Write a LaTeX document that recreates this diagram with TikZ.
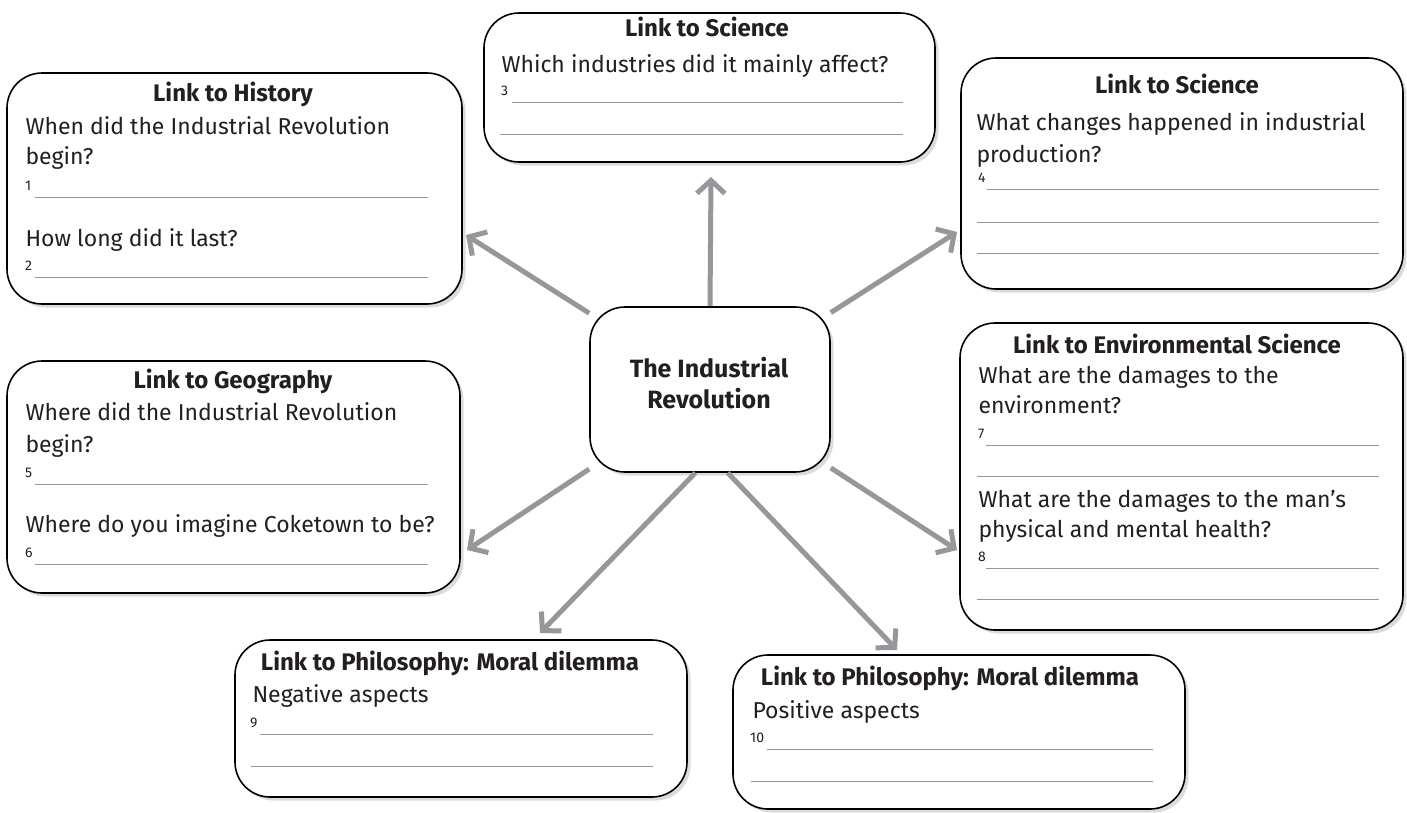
\documentclass[tikz,border=0pt]{standalone}
\usepackage{fontspec}
\setmainfont{Fira Sans}
\usetikzlibrary{arrows.meta,fit,shadows}

\definecolor{ink}{RGB}{35,31,32}
\definecolor{arrowgray}{RGB}{150,151,154}
\definecolor{rulegray}{RGB}{150,150,150}

\tikzset{
  panel/.style={draw=black, line width=1.6pt, rounded corners=35pt, fill=white,
    inner sep=0pt, drop shadow={shadow xshift=3.5pt, shadow yshift=-3.5pt, fill=black!28}},
  heading/.style={anchor=base, text=ink, font=\bfseries\fontsize{24}{28}\selectfont},
  question/.style={anchor=base west, text=ink, font=\fontsize{23}{26}\selectfont},
  number/.style={anchor=base west, text=ink, inner sep=0pt, font=\fontsize{14}{16}\selectfont},
  answer/.style={draw=rulegray, line width=1pt},
  link/.style={draw=arrowgray, line width=5pt, -{Straight Barb[length=13pt,width=28pt]}}
}

\begin{document}
\begin{tikzpicture}[x=1pt,y=-1pt]
    \useasboundingbox (0,0) rectangle (1407,812);

    % draw the boxes
    \node[panel, fit={(7,73) (462,304)}] (hist) {};
    \node[panel, fit={(7,361) (460,593)}] (geo) {};
    \node[panel, fit={(484,13) (935,162)}] (sciA) {};
    \node[panel, fit={(961,58) (1403,289)}] (sciB) {};
    \node[panel, fit={(960,323) (1403,630)}] (env) {};
    \node[panel, fit={(235,640) (687,797)}] (neg) {};
    \node[panel, fit={(733,655) (1185,809)}] (pos) {};
    \node[panel, fit={(590,307) (830,472)}] (ir) {};

    % centre title
    \node[heading, font=\bfseries\fontsize{25}{28}\selectfont] (irA) at (709,377) {The Industrial};
    \node[heading, font=\bfseries\fontsize{25}{28}\selectfont] (irB) at (709,408) {Revolution};

    % history
    \node[heading] (histT) at (233,101) {Link to History};
    \node[question] (histA) at (22,134) {When did the Industrial Revolution};
    \node[question] (histB) at (22,164) {begin?};
    \node[number] (n1) at (25,190) {1};
    \draw[answer] (35,197) -- (428,197);
    \node[question] (histC) at (22,246) {How long did it last?};
    \node[number] (n2) at (25,270) {2};
    \draw[answer] (35,277) -- (428,277);

    % geography
    \node[heading] (geoT) at (233,388) {Link to Geography};
    \node[question] (geoA) at (22,420) {Where did the Industrial Revolution};
    \node[question] (geoB) at (22,452) {begin?};
    \node[number] (n5) at (25,477) {5};
    \draw[answer] (35,484) -- (428,484);
    \node[question] (geoC) at (22,532) {Where do you imagine Coketown to be?};
    \node[number] (n6) at (25,557) {6};
    \draw[answer] (35,564) -- (428,564);

    % science, top
    \node[heading] (sciAT) at (707,36) {Link to Science};
    \node[question] (sciAA) at (498,72) {Which industries did it mainly affect?};
    \node[number] (n3) at (501,95) {3};
    \draw[answer] (512,102) -- (903,102);
    \draw[answer] (500,134) -- (903,134);

    % science, right
    \node[heading] (sciBT) at (1177,93) {Link to Science};
    \node[question] (sciBA) at (973,130) {What changes happened in industrial};
    \node[question] (sciBB) at (973,162) {production?};
    \node[number] (n4) at (978,182) {4};
    \draw[answer] (987,189) -- (1379,189);
    \draw[answer] (977,222) -- (1379,222);
    \draw[answer] (977,253) -- (1379,253);

    % environmental science
    \node[heading] (envT) at (1177,353) {Link to Environmental Science};
    \node[question] (envA) at (975,383) {What are the damages to the};
    \node[question] (envB) at (975,413) {environment?};
    \node[number] (n7) at (978,438) {7};
    \draw[answer] (986,445) -- (1379,445);
    \draw[answer] (977,476) -- (1379,476);
    \node[question] (envC) at (975,507) {What are the damages to the man’s};
    \node[question] (envD) at (975,537) {physical and mental health?};
    \node[number] (n8) at (978,561) {8};
    \draw[answer] (986,568) -- (1379,568);
    \draw[answer] (977,599) -- (1379,599);

    % philosophy, negative
    \node[heading] (negT) at (450,670) {Link to Philosophy: Moral dilemma};
    \node[question] (negA) at (249,702) {Negative aspects};
    \node[number] (n9) at (250,727) {9};
    \draw[answer] (260,734) -- (653,734);
    \draw[answer] (251,766) -- (653,766);

    % philosophy, positive
    \node[heading] (posT) at (950,685) {Link to Philosophy: Moral dilemma};
    \node[question] (posA) at (749,718) {Positive aspects};
    \node[number] (n10) at (750,742) {10};
    \draw[answer] (767,749) -- (1153,749);
    \draw[answer] (751,781) -- (1153,781);

    % add in the arrows
    \coordinate (toSciA) at (711,177);
    \coordinate (toSciB) at (957,232);
    \coordinate (toHist) at (466,235);
    \coordinate (toGeo) at (467,550);
    \coordinate (toEnv) at (957,550);
    \coordinate (toNeg) at (540,633);
    \coordinate (toPos) at (897,650);
    \draw[link] (ir.north) -- (toSciA);
    \draw[link] (ir) -- (toSciB);
    \draw[link] (ir) -- (toHist);
    \draw[link] (ir) -- (toGeo);
    \draw[link] (ir) -- (toEnv);
    \draw[link] (ir.-100) -- (toNeg);
    \draw[link] (ir.-78) -- (toPos);
  \end{tikzpicture}
\end{document}
